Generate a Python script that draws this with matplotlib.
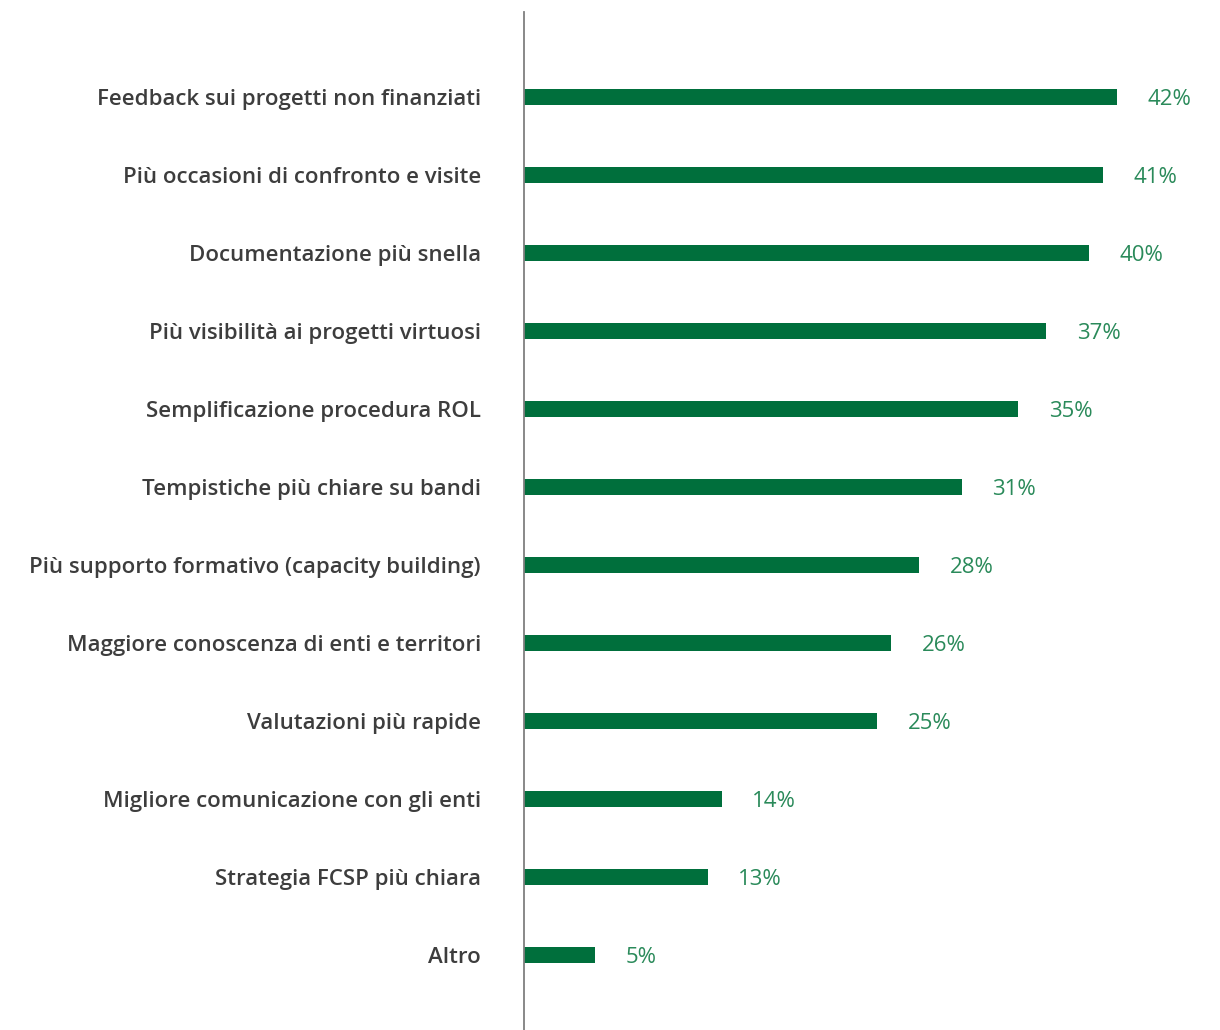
import matplotlib.pyplot as plt

# dati
categorie = [
    "Feedback sui progetti non finanziati",
    "Più occasioni di confronto e visite",
    "Documentazione più snella",
    "Più visibilità ai progetti virtuosi",
    "Semplificazione procedura ROL",
    "Tempistiche più chiare su bandi",
    "Più supporto formativo (capacity building)",
    "Maggiore conoscenza di enti e territori",
    "Valutazioni più rapide",
    "Migliore comunicazione con gli enti",
    "Strategia FCSP più chiara",
    "Altro",
]
valori = [42, 41, 40, 37, 35, 31, 28, 26, 25, 14, 13, 5]

verde_barre = "#006f3c"
verde_testo = "#2a8a5a"
grigio_testo = "#3d3d3d"

fig = plt.figure(figsize=(12.2, 10.3), dpi=100)
ax = fig.add_axes([524 / 1220, 0, 696 / 1220, 1018 / 1030])

y = list(range(len(categorie)))
ax.barh(y, valori, height=0.205, color=verde_barre)

ax.set_xlim(0, 49.3)
ax.set_ylim(11.96, -1.09)

ax.set_yticks(y)
ax.set_yticklabels(categorie, fontsize=16, color=grigio_testo,
                   family=["Open Sans", "DejaVu Sans"], fontweight="semibold")
ax.tick_params(axis="y", length=0, pad=31)
ax.set_xticks([])

for s in ["top", "right", "bottom"]:
    ax.spines[s].set_visible(False)
ax.spines["left"].set_color("#7f7f7f")
ax.spines["left"].set_linewidth(1.3)

# etichette valori
for yi, v in zip(y, valori):
    ax.annotate(f"{v}%", xy=(v, yi), xytext=(22, 0), textcoords="offset points",
                va="center_baseline", ha="left", fontsize=16, color=verde_testo,
                family=["Open Sans", "DejaVu Sans"])

fig.savefig("out.png", dpi=100)
